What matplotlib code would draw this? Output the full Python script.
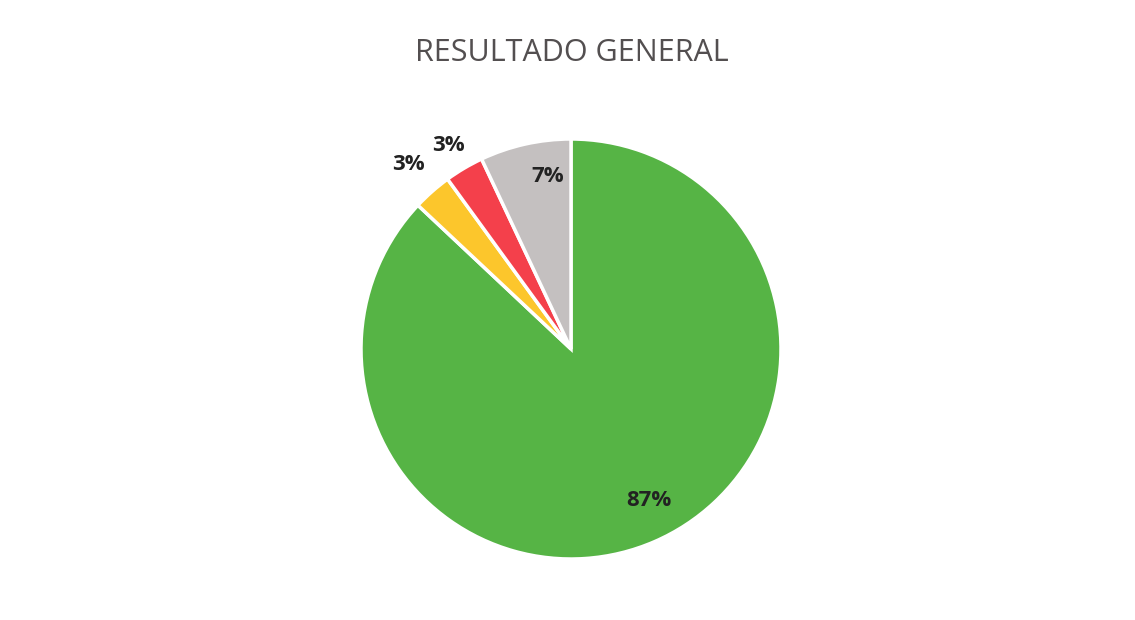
import numpy as np
import matplotlib
matplotlib.use('Agg')
import matplotlib.pyplot as plt

#datos del grafico
categorias=['Cumple','Parcial','No cumple','No aplica']
valores=[87,3,3,7]
etiquetas=['87%','3%','3%','7%']
colores=['#56b445','#fcc62c','#f4404b','#c4c0c0']

#posicion de las etiquetas (radio relativo, giro en grados)
radio_etiqueta=[0.81,1.17,1.13,0.83]
giro_etiqueta=[3.9,0.0,0.5,-5.0]

W,H=1135,620
fig=plt.figure(figsize=(W/100,H/100),dpi=100)
fig.patch.set_facecolor('white')
ax=fig.add_axes([0,0,1,1])
ax.axis('off')

cx,cy,r=571,H-349,210

wedges,_=ax.pie(valores,colors=colores,startangle=90,counterclock=False,
                center=(cx,cy),radius=r,
                wedgeprops=dict(edgecolor='white',linewidth=2.5))
ax.set_xlim(0,W)
ax.set_ylim(0,H)
ax.set_aspect('equal')

for w,txt,rr,dg in zip(wedges,etiquetas,radio_etiqueta,giro_etiqueta):
    ang=np.deg2rad((w.theta1+w.theta2)/2+dg)
    ax.text(cx+rr*r*np.cos(ang),cy+rr*r*np.sin(ang),txt,
            ha='center',va='center',fontsize=16,fontweight='bold',
            color='#222222',family='Open Sans')

ax.text(572,H-53,'RESULTADO GENERAL',ha='center',va='center',
        fontsize=22,color='#534f50',family='Open Sans')

fig.savefig('out.png',dpi=100)
